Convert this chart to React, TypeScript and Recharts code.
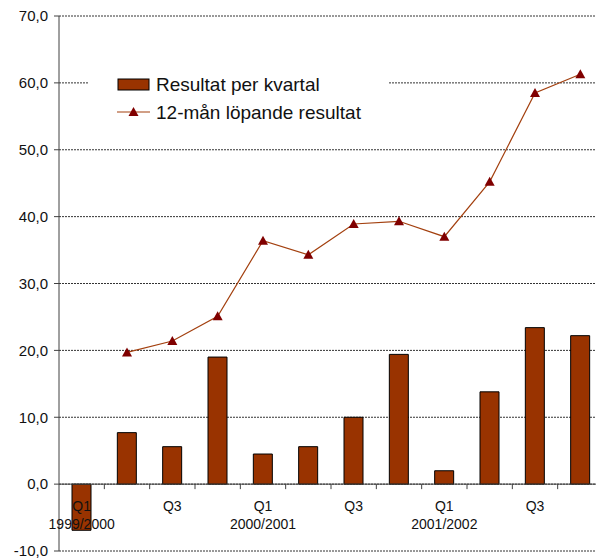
import { Bar, CartesianGrid, ComposedChart, Legend, Line, ReferenceLine, XAxis, YAxis } from 'recharts';

// quarterly result and rolling 12-month result (MSEK)
const quarterKeys = [
	'1999/2000 Q1', '1999/2000 Q2', '1999/2000 Q3', '1999/2000 Q4',
	'2000/2001 Q1', '2000/2001 Q2', '2000/2001 Q3', '2000/2001 Q4',
	'2001/2002 Q1', '2001/2002 Q2', '2001/2002 Q3', '2001/2002 Q4',
];
const quarterLabels = ['Q1', '', 'Q3', '', 'Q1', '', 'Q3', '', 'Q1', '', 'Q3', ''];
const yearLabels = ['1999/2000', '', '', '', '2000/2001', '', '', '', '2001/2002', '', '', ''];
const perQuarter = [-6.9, 7.7, 5.6, 19.0, 4.5, 5.6, 10.0, 19.4, 2.0, 13.8, 23.4, 22.2];
const rolling12 = [null, 19.7, 21.4, 25.1, 36.4, 34.3, 38.9, 39.3, 37.0, 45.2, 58.5, 61.3];
const yTicks = [-10, 0, 10, 20, 30, 40, 50, 60, 70];

const FONT = 'Arial, "Liberation Sans", sans-serif';
const CHART_W = 603;
const CHART_H = 558;
const X_AXIS_H = 7;
const MARGIN = { top: 16, right: 0, bottom: 0, left: 0 };
const Y_AXIS_W = 59;
const PLOT_W = CHART_W - MARGIN.left - MARGIN.right - Y_AXIS_W;
const PLOT_H = CHART_H - MARGIN.top - MARGIN.bottom - X_AXIS_H;
const Y_MIN = -10;
const Y_MAX = 70;
const BAND = PLOT_W / quarterKeys.length;
const ZERO_Y = MARGIN.top + (PLOT_H * (Y_MAX - 0)) / (Y_MAX - Y_MIN);

const BAR_COLOR = '#993300';
const LINE_COLOR = '#a3400f';
const MARKER_COLOR = '#800000';

const data = quarterKeys.map((key, i) => ({
	key,
	result: perQuarter[i],
	rolling: rolling12[i],
}));

const fmt = (v: number) => v.toFixed(1).replace('.', ',');

function QuarterTick(props: any) {
	const { x, payload } = props;
	const i = payload.index;
	return (
		<g>
			<line x1={x + BAND / 2} x2={x + BAND / 2} y1={ZERO_Y} y2={ZERO_Y + 5} stroke="#404040" />
			<text x={x} y={ZERO_Y + 27} textAnchor="middle" fontSize={14} fontFamily={FONT} fill="#111">
				{quarterLabels[i]}
			</text>
			<text x={x} y={ZERO_Y + 45} textAnchor="middle" fontSize={14} fontFamily={FONT} fill="#111">
				{yearLabels[i]}
			</text>
		</g>
	);
}

function Triangle(props: any) {
	const { cx, cy } = props;
	if (cx == null || cy == null) return <g />;
	return <path d={`M${cx},${cy - 5}L${cx + 5},${cy + 4}L${cx - 5},${cy + 4}Z`} fill={MARKER_COLOR} />;
}

function LegendBox() {
	return (
		<svg width={300} height={68} style={{ display: 'block' }}>
			<rect x={30} y={17} width={31} height={11} fill={BAR_COLOR} stroke="#000" />
			<text x={68} y={29} fontSize={19} fontFamily={FONT} fill="#111">
				Resultat per kvartal
			</text>
			<line x1={29} x2={62} y1={50} y2={50} stroke={LINE_COLOR} strokeWidth={1.2} />
			<path d="M45.5,45L50.5,54L40.5,54Z" fill={MARKER_COLOR} />
			<text x={68} y={57} fontSize={19} fontFamily={FONT} fill="#111">
				12-mån löpande resultat
			</text>
		</svg>
	);
}

export default function App() {
	return (
		<div style={{ position: 'absolute', left: 0, top: 0, width: 596, height: 558, overflow: 'hidden', background: '#fff' }}>
			<ComposedChart width={CHART_W} height={CHART_H} data={data} margin={MARGIN}>
				<CartesianGrid vertical={false} stroke="#333" strokeDasharray="2 1" />
				<XAxis
					dataKey="key"
					height={X_AXIS_H}
					axisLine={false}
					tickLine={false}
					interval={0}
					tick={<QuarterTick />}
				/>
				<YAxis
					width={Y_AXIS_W}
					domain={[Y_MIN, Y_MAX]}
					ticks={yTicks}
					interval={0}
					tickFormatter={fmt}
					tickSize={5}
					tickMargin={6}
					stroke="#404040"
					tick={{ fontSize: 15, fontFamily: FONT, fill: '#111' }}
				/>
				<ReferenceLine y={0} stroke="#404040" />
				<Bar dataKey="result" barSize={19} fill={BAR_COLOR} stroke="#000" strokeWidth={1} isAnimationActive={false} />
				<Line
					dataKey="rolling"
					stroke={LINE_COLOR}
					strokeWidth={1.2}
					dot={<Triangle />}
					activeDot={false}
					isAnimationActive={false}
				/>
				<Legend
					layout="vertical"
					align="center"
					verticalAlign="middle"
					content={<LegendBox />}
					wrapperStyle={{ left: 88, top: 62, width: 300, height: 68, background: '#fff' }}
				/>
			</ComposedChart>
		</div>
	);
}
